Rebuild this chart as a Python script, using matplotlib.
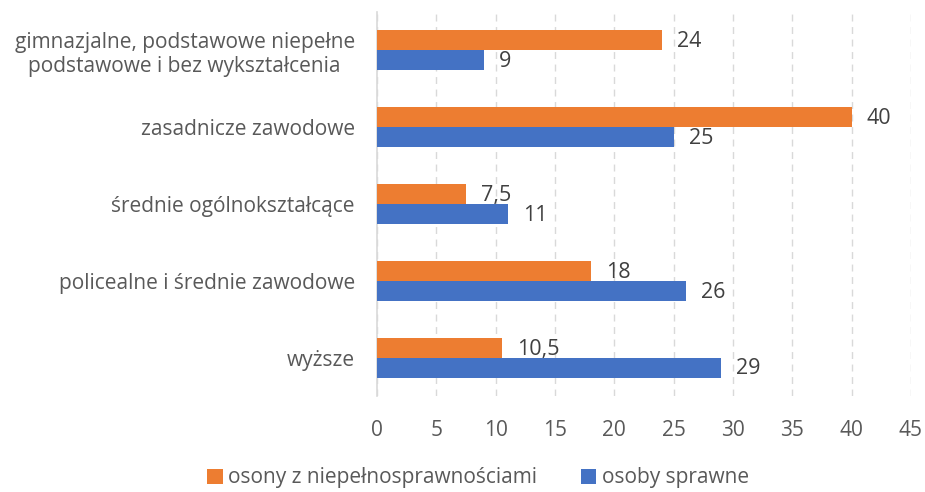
import matplotlib.pyplot as plt
import numpy as np

plt.rcParams['font.family'] = ['Open Sans', 'DejaVu Sans']

categories = [
    "gimnazjalne, podstawowe niepełne\npodstawowe i bez wykształcenia",
    "zasadnicze zawodowe",
    "średnie ogólnokształcące",
    "policealne i średnie zawodowe",
    "wyższe",
]
disabled = [24, 40, 7.5, 18, 10.5]
ablebodied = [9, 25, 11, 26, 29]
series_names = ["osony z niepełnosprawnościami", "osoby sprawne"]
xticks = [0, 5, 10, 15, 20, 25, 30, 35, 40, 45]

ORANGE = "#ED7D31"
BLUE = "#4472C4"
TEXT = "#595959"
FS = 15

fig = plt.figure(figsize=(9.25, 4.92), dpi=100)
ax = fig.add_axes([377 / 925, 1 - 396 / 492, (911 - 377) / 925, (396 - 12) / 492])

y = np.arange(len(categories))
h = 0.26
b1 = ax.barh(y - h / 2, disabled, height=h, color=ORANGE, label=series_names[0], zorder=3)
b2 = ax.barh(y + h / 2, ablebodied, height=h, color=BLUE, label=series_names[1], zorder=3)


def fmt(v):
    s = f"{v:g}"
    return s.replace(".", ",")


for bars, vals in ((b1, disabled), (b2, ablebodied)):
    for bar, v in zip(bars, vals):
        ax.annotate(fmt(v), (v, bar.get_y() + bar.get_height() / 2),
                    xytext=(11, -1), textcoords="offset points",
                    va="center", ha="left", fontsize=FS + 0.5, color="#404040", zorder=4)

ax.set_xlim(0, 45)
ax.set_ylim(len(categories) - 0.5, -0.5)
ax.set_xticks(xticks)
ax.set_yticks(y)
ax.set_yticklabels(categories, fontsize=FS, color=TEXT, ha="right", multialignment="center")
ax.tick_params(axis="y", length=0, pad=16)
ax.tick_params(axis="x", length=0, labelsize=FS, labelcolor=TEXT, pad=17)

ax.grid(axis="x", color="#D9D9D9", linestyle=(0, (5, 4)), linewidth=1, zorder=0)
for side in ("top", "right", "bottom"):
    ax.spines[side].set_visible(False)
ax.spines["left"].set_color("#D9D9D9")
ax.spines["left"].set_linewidth(1.2)

fig.legend(handles=[b1, b2], labels=series_names, loc="center",
           bbox_to_anchor=(478 / 925, 1 - 478 / 492), ncol=2, frameon=False,
           fontsize=FS, labelcolor=TEXT, handlelength=0.75, handleheight=0.75,
           handletextpad=0.25, columnspacing=2.1)

fig.savefig("out.png", dpi=100, facecolor="white")
